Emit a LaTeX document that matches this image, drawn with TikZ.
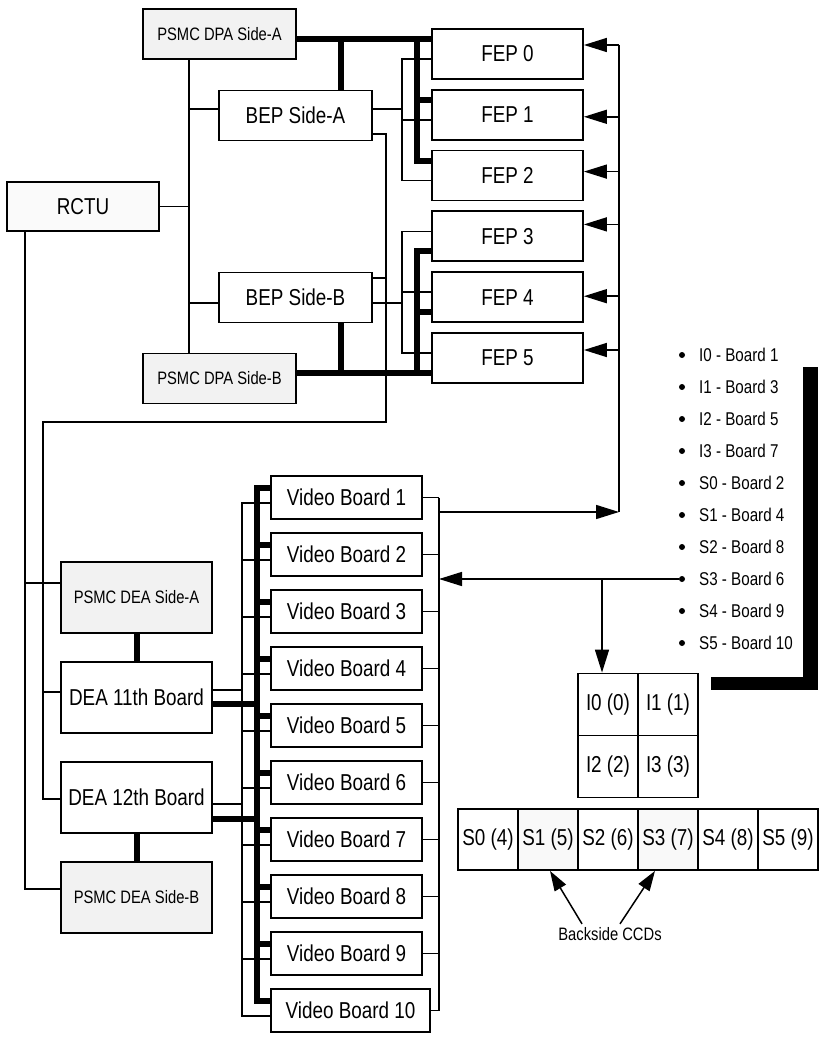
\documentclass[tikz,border=0pt]{standalone}
\usepackage{fontspec}
\setmainfont{Liberation Sans}[FakeStretch=0.82]
\usetikzlibrary{arrows.meta,positioning,calc}

\tikzset{
  unit/.style={draw,line width=1.8pt,fill=white,inner sep=0pt,minimum width=151pt,
    minimum height=50pt,font=\fontsize{23}{25}\selectfont},
  psmc/.style={unit,fill=gray!10,minimum width=153pt,font=\fontsize{18}{20}\selectfont},
  vid/.style={unit,minimum height=43pt},
  dea/.style={unit,minimum height=71pt},
  cell/.style={draw,line width=1.8pt,inner sep=0pt,minimum width=60pt,minimum height=62pt,
    font=\fontsize{23}{25}\selectfont},
  dot/.style={circle,fill,inner sep=0pt,minimum size=6pt},
  item/.style={anchor=west,inner sep=0pt,font=\fontsize{18.5}{20}\selectfont},
  wire/.style={line width=1.5pt},
  power/.style={line width=6pt},
  data/.style={line width=1.5pt,-{Triangle[length=23pt,width=14pt]}},
}

\begin{document}
\begin{tikzpicture}[x=1pt,y=-1pt]
  \fill[white] (0,0) rectangle (828,1040);
  \useasboundingbox (0,0) rectangle (828,1040);

  % DPA side
  \node[psmc] (psmcA) at (219.5,34) {PSMC DPA Side-A};
  \node[unit,minimum width=153pt] (bepA) at (295.5,115.5) {BEP Side-A};
  \node[unit,fill=gray!4,minimum width=152pt,minimum height=49pt] (rctu) at (83,206.5) {RCTU};
  \node[unit,minimum width=153pt] (bepB) at (295.5,297.5) {BEP Side-B};
  \node[psmc] (psmcB) at (219.5,378.5) {PSMC DPA Side-B};
  \node[unit] (fep0) at (507.5,54) {FEP 0};
  \node[unit] (fep1) at (507.5,114.8) {FEP 1};
  \node[unit] (fep2) at (507.5,175.6) {FEP 2};
  \node[unit] (fep3) at (507.5,236.4) {FEP 3};
  \node[unit] (fep4) at (507.5,297.2) {FEP 4};
  \node[unit] (fep5) at (507.5,358) {FEP 5};

  % DEA side
  \node[psmc,minimum width=151pt,minimum height=71pt] (psmcDA) at (136.5,597.5) {PSMC DEA Side-A};
  \node[dea] (dea11) at (136.5,697.5) {DEA 11th Board};
  \node[dea] (dea12) at (136.5,797.5) {DEA 12th Board};
  \node[psmc,minimum width=151pt,minimum height=71pt] (psmcDB) at (136.5,897.5) {PSMC DEA Side-B};
  \node[vid] (vid1) at (346.5,497.5) {Video Board 1};
  \node[vid] (vid2) at (346.5,554.5) {Video Board 2};
  \node[vid] (vid3) at (346.5,611.5) {Video Board 3};
  \node[vid] (vid4) at (346.5,668.5) {Video Board 4};
  \node[vid] (vid5) at (346.5,725.5) {Video Board 5};
  \node[vid] (vid6) at (346.5,782.5) {Video Board 6};
  \node[vid] (vid7) at (346.5,839.5) {Video Board 7};
  \node[vid] (vid8) at (346.5,896.5) {Video Board 8};
  \node[vid] (vid9) at (346.5,953.5) {Video Board 9};
  \node[vid,minimum width=159pt] (vid10) at (350.5,1010.5) {Video Board 10};

  % CCD layout
  \node[cell] (i0) at (608,704.5) {I0 (0)};
  \node[cell] (i1) at (668,704.5) {I1 (1)};
  \node[cell] (i2) at (608,766.5) {I2 (2)};
  \node[cell] (i3) at (668,766.5) {I3 (3)};
  \node[cell,minimum height=61pt] (s0) at (488,839.5) {S0 (4)};
  \node[cell,minimum height=61pt,fill=gray!5] (s1) at (548,839.5) {S1 (5)};
  \node[cell,minimum height=61pt] (s2) at (608,839.5) {S2 (6)};
  \node[cell,minimum height=61pt,fill=gray!5] (s3) at (668,839.5) {S3 (7)};
  \node[cell,minimum height=61pt] (s4) at (728,839.5) {S4 (8)};
  \node[cell,minimum height=61pt] (s5) at (788,839.5) {S5 (9)};
  \node[font=\fontsize{18}{20}\selectfont] (back) at (610,934) {Backside CCDs};
  \draw[data,-{Triangle[length=20pt,width=13pt]}] ([xshift=-28pt]back.north) -- ([xshift=2pt]s1.south);
  \draw[data,-{Triangle[length=20pt,width=13pt]}] ([xshift=10pt]back.north) -- ([xshift=-13pt]s3.south);

  % board list
  \fill (803,367) rectangle (818,690);
  \fill (711,677) rectangle (818,690);
  \foreach \y/\t [count=\k from 0] in {355/I0 - Board 1,387/I1 - Board 3,419/I2 - Board 5,
      451/I3 - Board 7,483/S0 - Board 2,515/S1 - Board 4,547/S2 - Board 8,
      579/S3 - Board 6,611/S4 - Board 9,643/S5 - Board 10} {
    \node[dot] (dot\k) at (682,\y) {};
    \node[item] (item\k) at (699,\y) {\t};
  }

  \coordinate (dpaBus) at (189,0);
  \coordinate (deaBus) at (25,0);
  \coordinate (fepBus) at (402,0);
  \coordinate (fepIn) at (619,0);
  \coordinate (railA) at (417,39);
  \coordinate (railB) at (417,373);
  \coordinate (bepDrop) at (386,422);
  \coordinate (deaLeft) at (43,422);
  \coordinate (vidBus) at (439,0);
  \coordinate (vidOut) at (619,512);
  \coordinate (vidThin) at (242,0);
  \coordinate (vidThick) at (257,0);
  \coordinate (ccdTap) at (602,0);

  % RCTU and BEP wiring
  \draw[wire] (psmcA.south -| dpaBus) -- (psmcB.north -| dpaBus);
  \draw[wire] (rctu.east) -- (rctu.east -| dpaBus);
  \draw[wire] ([yshift=6.5pt]bepA.west) -- ([yshift=6.5pt]bepA.west -| dpaBus);
  \draw[wire] ([yshift=-5.5pt]bepB.west) -- ([yshift=-5.5pt]bepB.west -| dpaBus);
  \draw[wire] (rctu.south -| deaBus) |- ([yshift=8.5pt]psmcDB.west);
  \draw[wire] ([yshift=14.5pt]psmcDA.west) -- ([yshift=14.5pt]psmcDA.west -| deaBus);
  \draw[wire] ([yshift=-18.5pt]bepA.east) -| (bepDrop) -- (deaLeft) |- ([yshift=-1.5pt]dea12.west);
  \draw[wire] ([yshift=5.5pt]dea11.west) -- ([yshift=5.5pt]dea11.west -| deaLeft);
  \draw[wire] ([yshift=19.5pt]bepB.east) -- ([yshift=19.5pt]bepB.east -| bepDrop);

  % BEP to FEP
  \draw[wire] ([yshift=6.5pt]bepA.east) -- ([yshift=6.5pt]bepA.east -| fepBus);
  \draw[wire] ([yshift=-5pt]fep0.west) -| ([yshift=-5pt]fep2.west -| fepBus) -- ([yshift=-5pt]fep2.west);
  \draw[wire] ([yshift=-5pt]fep1.west) -- ([yshift=-5pt]fep1.west -| fepBus);
  \draw[wire] ([yshift=-5.5pt]bepB.east) -- ([yshift=-5.5pt]bepB.east -| fepBus);
  \draw[wire] ([yshift=5pt]fep3.west) -| ([yshift=5pt]fep5.west -| fepBus) -- ([yshift=5pt]fep5.west);
  \draw[wire] ([yshift=5pt]fep4.west) -- ([yshift=5pt]fep4.west -| fepBus);

  % DPA power
  \draw[power] ([yshift=-5pt]psmcA.east) -- ([yshift=15pt]fep0.west);
  \draw[power] ([xshift=45.5pt]bepA.north) -- ([xshift=45.5pt,yshift=-5pt]bepA.north |- psmcA.east);
  \draw[power] (railA) |- ([yshift=15pt]fep2.west);
  \draw[power] ([yshift=15pt]fep1.west) -- ([yshift=15pt]fep1.west -| railA);
  \draw[power] ([yshift=5.5pt]psmcB.east) -- ([yshift=-15pt]fep5.west);
  \draw[power] ([xshift=45.5pt]bepB.south) -- ([xshift=45.5pt,yshift=5.5pt]bepB.south |- psmcB.east);
  \draw[power] (railB) |- ([yshift=-15pt]fep3.west);
  \draw[power] ([yshift=-15pt]fep4.west) -- ([yshift=-15pt]fep4.west -| railB);

  % science data path
  \foreach \f/\s in {0/9,1/-2,2/4,3/12,4/1,5/8}
    \draw[data] ([yshift=\s pt]fep\f.east -| fepIn) -- ([yshift=\s pt]fep\f.east);
  \draw[wire] ([yshift=9pt]fep0.east -| fepIn) -- (vidOut);
  \draw[data] (vidBus |- vidOut) -- (vidOut);
  \foreach \v in {1,...,10}
    \draw[wire] (vid\v.east) -- (vid\v.east -| vidBus);
  \draw[wire] (vid1.east -| vidBus) -- (vid10.east -| vidBus);
  \draw[data] (dot7.west) -- (dot7.west -| vidBus);
  \draw[data] (dot7.west -| ccdTap) -- (i0.north -| ccdTap);

  % DEA power and data to video boards
  \draw[power] (psmcDA.south) -- (dea11.north);
  \draw[power] (dea12.south) -- (psmcDB.north);
  \draw[wire] ([yshift=-5.5pt]vid1.west) -| ([yshift=-5.5pt]vid10.west -| vidThin) -- ([yshift=-5.5pt]vid10.west);
  \draw[power] ([yshift=9.5pt]vid1.west) -| ([yshift=9.5pt]vid10.west -| vidThick) -- ([yshift=9.5pt]vid10.west);
  \foreach \v in {2,...,9} {
    \draw[wire] ([yshift=-5.5pt]vid\v.west) -- ([yshift=-5.5pt]vid\v.west -| vidThin);
    \draw[power] ([yshift=9.5pt]vid\v.west) -- ([yshift=9.5pt]vid\v.west -| vidThick);
  }
  \draw[wire] ([yshift=7.5pt]dea11.east) -- ([yshift=7.5pt]dea11.east -| vidThin);
  \draw[power] ([yshift=-6.5pt]dea11.east) -- ([yshift=-6.5pt]dea11.east -| vidThick);
  \draw[wire] ([yshift=-6.5pt]dea12.east) -- ([yshift=-6.5pt]dea12.east -| vidThin);
  \draw[power] ([yshift=-21.5pt]dea12.east) -- ([yshift=-21.5pt]dea12.east -| vidThick);
\end{tikzpicture}
\end{document}
